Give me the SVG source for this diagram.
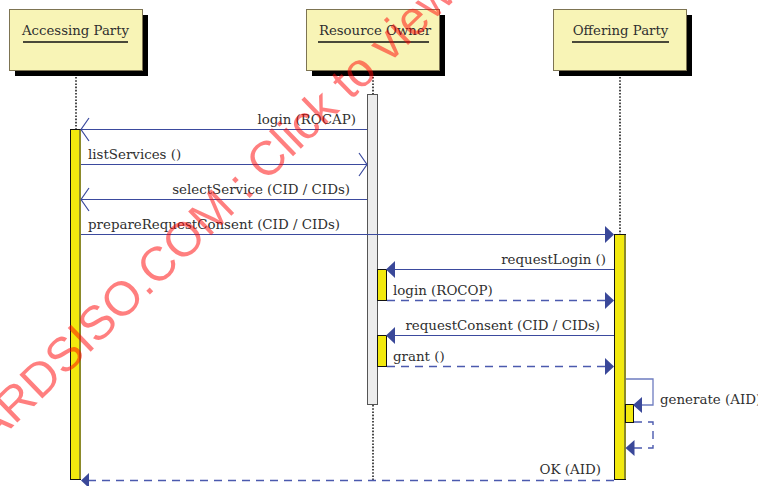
<svg xmlns="http://www.w3.org/2000/svg" width="758" height="486" viewBox="0 0 758 486">
  <style>
    .hdr { fill: #f8f4b6; stroke: #7d7452; stroke-width: 1; }
    .shadow { fill: #000; }
    .hdrtxt { font-family: "DejaVu Serif", "Liberation Serif", serif; font-size: 13.3px; fill: #2f2f2f; text-anchor: middle; }
    .uline { stroke: #111; stroke-width: 1.3; }
    .life { stroke: #111; stroke-width: 1.5; stroke-dasharray: 1.6 1.6; fill: none; }
    .act { fill: #f2e90e; stroke: #111; stroke-width: 1; }
    .actedge { stroke: #8c8a2a; stroke-width: 2; }
    .actgray { fill: #ececec; stroke: #555; stroke-width: 1; }
    .msg { stroke: #3b4a9e; stroke-width: 1; fill: none; }
    .msgself { stroke: #6e7cc0; stroke-width: 1.3; fill: none; }
    .ret { stroke: #4b5aae; stroke-width: 1.4; stroke-dasharray: 8 6; fill: none; }
    .open { stroke: #3b4a9e; stroke-width: 1.2; fill: none; }
    .head { fill: #3a4899; }
    .lbl { font-family: "DejaVu Serif", "Liberation Serif", serif; font-size: 13.4px; fill: #2f2f2f; }
    .end { text-anchor: end; }
    .wm { font-family: "Liberation Sans", Arial, sans-serif; font-size: 48px; fill: #ff0000; fill-opacity: 0.5; }
  </style>

  <!-- participant headers -->
  <g id="accessing-party">
    <rect class="shadow" x="15" y="15" width="133" height="61"/>
    <rect class="hdr" x="9.5" y="9.5" width="133" height="61"/>
    <text class="hdrtxt" x="75.5" y="35">Accessing Party</text>
    <line class="uline" x1="23" y1="42" x2="128" y2="42"/>
  </g>
  <g id="resource-owner">
    <rect class="shadow" x="312" y="15" width="133" height="61"/>
    <rect class="hdr" x="306.5" y="9.5" width="133" height="61"/>
    <text class="hdrtxt" x="375" y="35">Resource Owner</text>
    <line class="uline" x1="318" y1="42" x2="429" y2="42"/>
  </g>
  <g id="offering-party">
    <rect class="shadow" x="559" y="15" width="133" height="61"/>
    <rect class="hdr" x="553.5" y="9.5" width="133" height="61"/>
    <text class="hdrtxt" x="620.5" y="35">Offering Party</text>
    <line class="uline" x1="572" y1="42" x2="669" y2="42"/>
  </g>

  <!-- lifelines -->
  <g id="lifelines">
    <line class="life" x1="76" y1="77" x2="76" y2="129"/>
    <line class="life" x1="373" y1="77" x2="373" y2="94"/>
    <line class="life" x1="373" y1="405" x2="373" y2="480"/>
    <line class="life" x1="620" y1="77" x2="620" y2="234"/>
  </g>

  <!-- activations -->
  <g id="activations">
    <rect class="actgray" x="367.5" y="94.5" width="10" height="310"/>
    <rect class="act" x="70.5" y="129.5" width="10" height="350"/>
    <line class="actedge" x1="80" y1="130" x2="80" y2="479"/>
    <rect class="act" x="614.5" y="234.5" width="11" height="245"/>
    <line class="actedge" x1="625" y1="235" x2="625" y2="479"/>
    <rect class="act" x="377.5" y="269.5" width="9" height="31"/>
    <rect class="act" x="377.5" y="335.5" width="9" height="31"/>
    <rect class="act" x="625.5" y="404.5" width="8" height="18"/>
  </g>

  <!-- messages -->
  <g id="connectors">
    <!-- login (ROCAP) -->
    <line class="msg" x1="367" y1="129.5" x2="81" y2="129.5"/>
    <polyline class="open" points="89,118 81,129.5 89,141"/>
    <!-- listServices () -->
    <line class="msg" x1="81" y1="164.5" x2="367" y2="164.5"/>
    <polyline class="open" points="359,153 367,164.5 359,176"/>
    <!-- selectService -->
    <line class="msg" x1="367" y1="199.5" x2="81" y2="199.5"/>
    <polyline class="open" points="89,188 81,199.5 89,211"/>
    <!-- prepareRequestConsent -->
    <line class="msg" x1="81" y1="234.5" x2="606" y2="234.5"/>
    <polygon class="head" points="614,234.5 605,226 605,243"/>
    <!-- requestLogin () -->
    <line class="msg" x1="614" y1="269.5" x2="395" y2="269.5"/>
    <polygon class="head" points="386,269.5 395,261 395,278"/>
    <!-- login (ROCOP) -->
    <line class="ret" x1="387" y1="300.5" x2="606" y2="300.5"/>
    <polygon class="head" points="614,300.5 605,292 605,309"/>
    <!-- requestConsent -->
    <line class="msg" x1="614" y1="335.5" x2="395" y2="335.5"/>
    <polygon class="head" points="386,335.5 395,327 395,344"/>
    <!-- grant () -->
    <line class="ret" x1="387" y1="366.5" x2="606" y2="366.5"/>
    <polygon class="head" points="614,366.5 605,358 605,375"/>
    <!-- generate (AID) self call -->
    <polyline class="msgself" points="626,379 653,379 653,405 641,405"/>
    <polygon class="head" points="633,405 642,397 642,413"/>
    <!-- self return -->
    <polyline class="ret" points="634,422 653,422 653,448 634,448"/>
    <polygon class="head" points="625.5,448 634.5,440 634.5,456"/>
    <!-- OK (AID) -->
    <line class="ret" x1="614" y1="480.5" x2="89" y2="480.5"/>
    <polygon class="head" points="81,480.5 89,473 89,488"/>
  </g>

  <!-- message labels -->
  <g id="labels">
    <text class="lbl end" x="356" y="124">login (ROCAP)</text>
    <text class="lbl" x="88" y="159">listServices ()</text>
    <text class="lbl end" x="350" y="194">selectService (CID / CIDs)</text>
    <text class="lbl" x="88" y="229">prepareRequestConsent (CID / CIDs)</text>
    <text class="lbl end" x="606" y="264">requestLogin ()</text>
    <text class="lbl" x="393" y="295">login (ROCOP)</text>
    <text class="lbl end" x="600" y="330">requestConsent (CID / CIDs)</text>
    <text class="lbl" x="393" y="361">grant ()</text>
    <text class="lbl" x="660" y="404">generate (AID)</text>
    <text class="lbl end" x="601" y="474">OK (AID)</text>
  </g>

  <!-- watermark overlay -->
  <text class="wm" transform="translate(-123 558) rotate(-44)">STANDARDSISO.COM : Click to view</text>
</svg>
